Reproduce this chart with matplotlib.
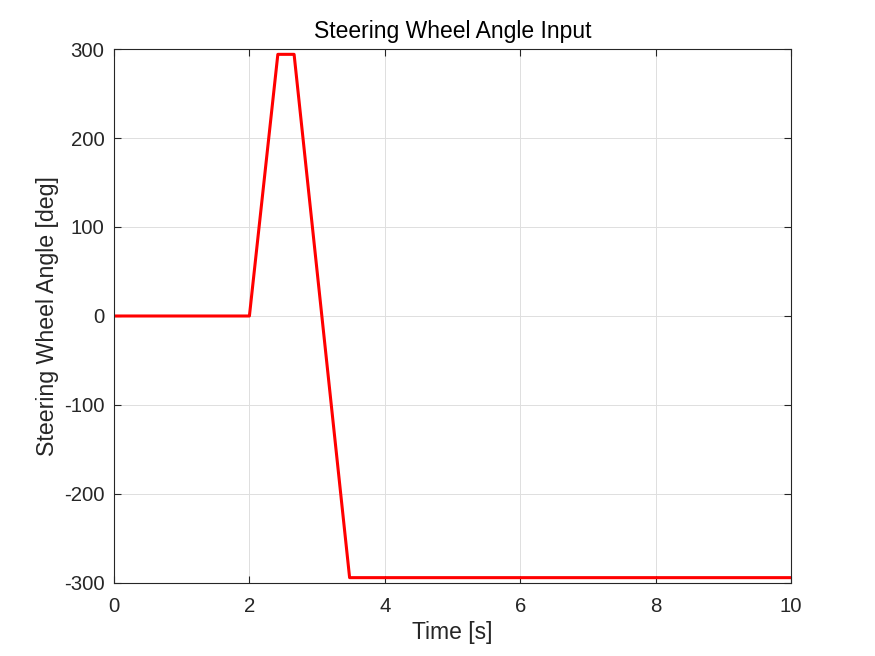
import matplotlib
matplotlib.use("Agg")
import matplotlib.pyplot as plt

# Steering input
time_s = [0.0, 2.0, 2.42, 2.66, 3.48, 10.0]
angle_deg = [0.0, 0.0, 294.0, 294.0, -294.0, -294.0]

x_ticks = [0, 2, 4, 6, 8, 10]
y_ticks = [-300, -200, -100, 0, 100, 200, 300]

plt.rcParams["font.family"] = ["Liberation Sans", "DejaVu Sans"]
plt.rcParams["axes.unicode_minus"] = False
txt = "#262626"

fig = plt.figure(figsize=(8.75, 6.56), dpi=100)
ax = fig.add_axes([0.1303, 0.1113, 0.7737, 0.8140])

ax.plot(time_s, angle_deg, color="red", linewidth=2.2)

ax.set_xlim(0, 10)
ax.set_ylim(-300, 300)
ax.set_xticks(x_ticks)
ax.set_yticks(y_ticks)
ax.grid(True, color="#dedede", linewidth=0.7)
ax.set_axisbelow(True)
ax.tick_params(direction="in", length=5, top=True, right=True,
               labelsize=14.7, colors=txt)
ax.tick_params(axis="x", pad=10)
ax.tick_params(axis="y", pad=7)
for s in ax.spines.values():
    s.set_color(txt)
    s.set_linewidth(0.8)

ax.set_xlabel("Time [s]", fontsize=16.5, color=txt, labelpad=4)
ax.set_ylabel("Steering Wheel Angle [deg]", fontsize=16.7, color=txt, labelpad=3)
ax.set_title("Steering Wheel Angle Input", fontsize=16.5, color="black", pad=8)

fig.savefig("out.png", dpi=100, facecolor="white")
